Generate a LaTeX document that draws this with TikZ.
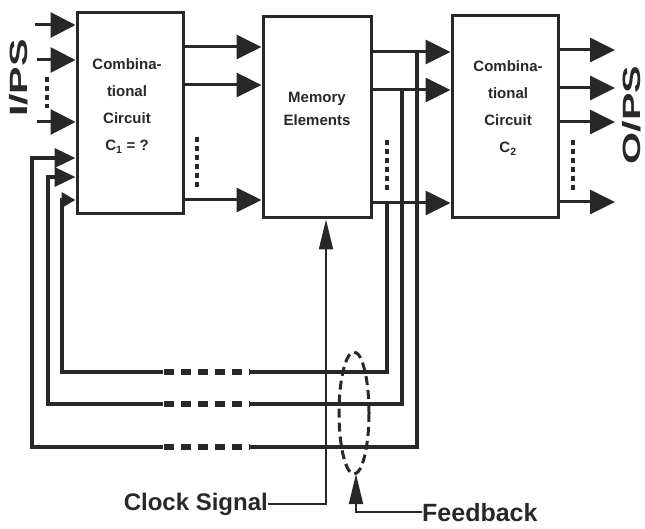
\documentclass[tikz,border=0pt]{standalone}
\usepackage{fontspec}
\setmainfont{Liberation Sans}
\usetikzlibrary{arrows.meta,calc}
\definecolor{ink}{RGB}{40,40,40}
\begin{document}
\begin{tikzpicture}[x=1pt,y=-1pt,
  box/.style={draw=ink, line width=3pt, inner sep=0pt, fill=white},
  txt/.style={inner sep=0pt, align=center, text=ink, font=\fontsize{15}{27}\selectfont\bfseries},
  memtxt/.style={inner sep=0pt, align=center, text=ink, font=\fontsize{15}{23}\selectfont\bfseries},
  arr/.style={draw=ink, line width=3pt, -{Triangle[length=25pt,width=24pt]}},
  inarr/.style={draw=ink, line width=3pt, -{Triangle[length=25pt,width=25pt]}},
  fbarr/.style={draw=ink, line width=3.5pt, -{Triangle[length=21pt,width=19pt]}},
  fbarrs/.style={draw=ink, line width=3.5pt, -{Triangle[length=14pt,width=15pt]}},
  dotsv/.style={draw=ink, line width=4pt, dash pattern=on 5pt off 4pt},
  gapcover/.style={draw=white, line width=7pt},
  gapdash/.style={draw=ink, line width=5.5pt, dash pattern=on 10pt off 7pt},
  sigarr/.style={draw=ink, line width=2pt, -{Triangle[length=30pt,width=14pt]}},
  lbl/.style={inner sep=0pt, text=ink, font=\bfseries},
  side/.style={inner sep=0pt, text=ink, rotate=90, font=\fontsize{25}{25}\selectfont\bfseries}
]
\useasboundingbox (0,0) rectangle (645,529);

% boxes
\node[box, minimum width=106pt, minimum height=201pt] (b1) at (130,113.5) {};
\node[box, minimum width=108pt, minimum height=201pt] (b2) at (317,117.5) {};
\node[box, minimum width=106pt, minimum height=202pt] (b3) at (505,117) {};

\node[txt] (t1) at (127,106) {Combina-\\tional\\Circuit\\C\textsubscript{1} = ?};
\node[memtxt] (t2) at (317,108.5) {Memory\\Elements};
\node[txt] (t3) at (508,108) {Combina-\\tional\\Circuit\\C\textsubscript{2}};

% side labels
\node[side] (ips) at (19,78) {\scalebox{1.65}[1]{I/PS}};
\node[side] (ops) at (632,115) {\scalebox{1.65}[1]{O/PS}};

% reference coordinates
\coordinate (i1) at (35,25);
\coordinate (i2) at (37,60);
\coordinate (i3) at (37,122);
\coordinate (r1) at (0,47);
\coordinate (r2) at (0,85);
\coordinate (r3) at (0,200);
\coordinate (m1) at (417,52);
\coordinate (m2) at (402,90);
\coordinate (m3) at (387,203);
\coordinate (c1) at (32,447);
\coordinate (c2) at (48,404);
\coordinate (c3) at (62,372);
\coordinate (f1) at (0,158);
\coordinate (f2) at (0,177);
\coordinate (f3) at (0,200);
\coordinate (o1) at (615,50);
\coordinate (o2) at (615,88);
\coordinate (o3) at (615,122);
\coordinate (o4) at (615,202);

% inputs
\draw[inarr] (i1) -- (b1.west |- i1);
\draw[inarr] (i2) -- (b1.west |- i2);
\draw[inarr] (i3) -- (b1.west |- i3);
\draw[dotsv] (47,77) -- (47,108);

% C1 -> memory
\draw[arr] (b1.east |- r1) -- (b2.west |- r1);
\draw[arr] (b1.east |- r2) -- (b2.west |- r2);
\draw[arr] (b1.east |- r3) -- (b2.west |- r3);
\draw[dotsv] (197,137) -- (197,188);

% memory -> C2
\draw[arr] (b2.east |- m1) -- (b3.west |- m1);
\draw[arr] (b2.east |- m2) -- (b3.west |- m2);
\draw[arr] (b2.east |- m3) -- (b3.west |- m3);
\draw[dotsv] (387,140) -- (387,191);

% outputs
\draw[arr] (b3.east |- o1) -- (o1);
\draw[arr] (b3.east |- o2) -- (o2);
\draw[arr] (b3.east |- o3) -- (o3);
\draw[arr] (b3.east |- o4) -- (o4);
\draw[dotsv] (573,140) -- (573,191);

% feedback loops
\draw[fbarr] (m1) |- (c1) |- (b1.west |- f1);
\draw[fbarr] (m2) |- (c2) |- (b1.west |- f2);
\draw[fbarrs] (m3) |- (c3) |- (b1.west |- f3);

\foreach \yy in {372,404,447}{
  \draw[gapcover] (163,\yy) -- (250,\yy);
  \draw[gapdash] (164,\yy) -- (250,\yy);
}

% feedback ellipse
\draw[draw=ink, line width=3pt, dash pattern=on 9pt off 5pt] (354,413) ellipse [x radius=15pt, y radius=61pt];

% clock signal
\node[lbl, font=\fontsize{24}{24}\selectfont\bfseries, anchor=base east] (clk) at (268,510) {Clock Signal};
\coordinate (cktip) at ($(b2.south)+(9,0)$);
\draw[sigarr] (clk.east) -| (cktip);

% feedback label
\node[lbl, font=\fontsize{25}{25}\selectfont\bfseries, anchor=base west] (fbl) at (422,521) {Feedback};
\coordinate (fbtip) at (356,474);
\draw[sigarr] (fbl.west) -| (fbtip);
\end{tikzpicture}
\end{document}
